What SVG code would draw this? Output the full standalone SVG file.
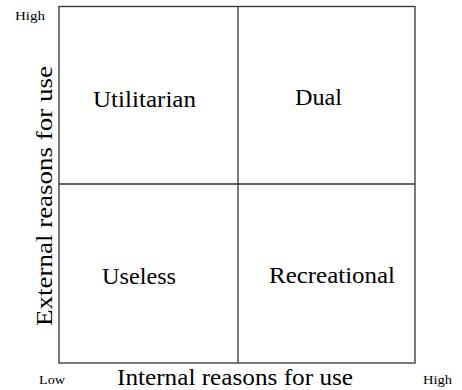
<svg xmlns="http://www.w3.org/2000/svg" width="462" height="390" viewBox="0 0 462 390">
<style>
text{font-family:'Liberation Serif','DejaVu Serif',serif;fill:#000}
.big{font-size:24px}
.small{font-size:13px}
.ln{stroke:#333;stroke-width:1.3;fill:none}
</style>
<rect x="0" y="0" width="462" height="390" fill="#fff"/>
<g id="grid">
<rect class="ln" x="59" y="6.5" width="356" height="356.5"/>
<line class="ln" x1="238" y1="6.5" x2="238" y2="363"/>
<line class="ln" x1="59" y1="184" x2="415" y2="184"/>
</g>
<g id="utilitarian"><text class="big" x="93" y="107" textLength="103" lengthAdjust="spacingAndGlyphs">Utilitarian</text></g>
<g id="dual"><text class="big" x="295" y="105" textLength="47" lengthAdjust="spacingAndGlyphs">Dual</text></g>
<g id="useless"><text class="big" x="102" y="284" textLength="74" lengthAdjust="spacingAndGlyphs">Useless</text></g>
<g id="recreational"><text class="big" x="269" y="283" textLength="126" lengthAdjust="spacingAndGlyphs">Recreational</text></g>
<g id="axes">
<text class="big" x="117" y="385" textLength="236" lengthAdjust="spacingAndGlyphs">Internal reasons for use</text>
<text class="big" transform="translate(52,326) rotate(-90)" x="0" y="0" textLength="260" lengthAdjust="spacingAndGlyphs">External reasons for use</text>
<text class="small" x="15" y="20" textLength="30" lengthAdjust="spacingAndGlyphs">High</text>
<text class="small" x="39" y="384" textLength="26" lengthAdjust="spacingAndGlyphs">Low</text>
<text class="small" x="423" y="384" textLength="29" lengthAdjust="spacingAndGlyphs">High</text>
</g>
</svg>
